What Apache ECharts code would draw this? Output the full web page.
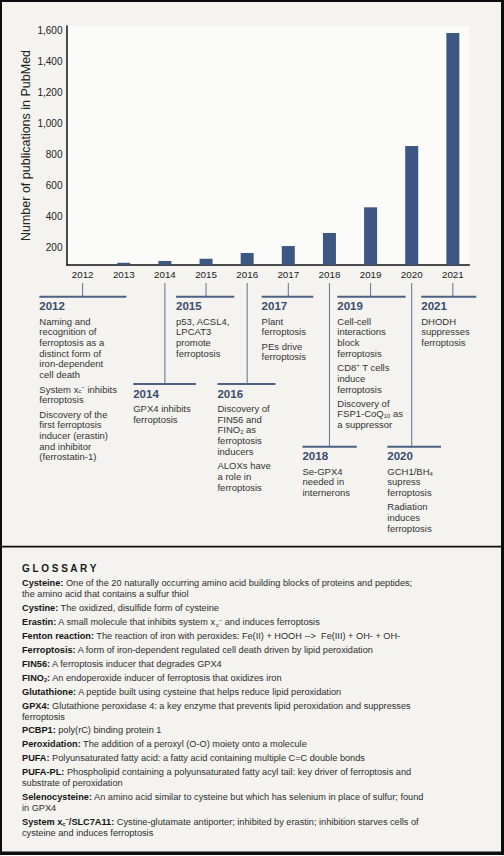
<!DOCTYPE html>
<html><head><meta charset="utf-8">
<script src="https://cdn.jsdelivr.net/npm/echarts@6/dist/echarts.min.js"></script>
<style>html,body{margin:0;padding:0;background:#f4f3ef}#c{width:504px;height:856px}</style>
</head><body><div id="c"></div>
<script>
// ---------- DATA ----------
const years = [2012, 2013, 2014, 2015, 2016, 2017, 2018, 2019, 2020, 2021];
const publications = [91, 103, 115, 129, 166, 211, 295, 460, 854, 1581];
const yTickLabels = [200, 400, 600, 800, 1000, 1200, 1400, 1600];
const yAxisTitle = 'Number of publications in PubMed';

const eventYears = [2012, 2014, 2015, 2016, 2017, 2018, 2019, 2020, 2021];
const eventTexts = [
  [["Naming and","recognition of","ferroptosis as a","distinct form of","iron-dependent","cell death"],
   ["System x{sub|c}{sup|−} inhibits","ferroptosis"],
   ["Discovery of the","first ferroptosis","inducer (erastin)","and inhibitor","(ferrostatin-1)"]],
  [["GPX4 inhibits","ferroptosis"]],
  [["p53, ACSL4,","LPCAT3","promote","ferroptosis"]],
  [["Discovery of","FIN56 and","FINO{sub|2} as","ferroptosis","inducers"],["ALOXs have","a role in","ferroptosis"]],
  [["Plant","ferroptosis"],["PEs drive","ferroptosis"]],
  [["Se-GPX4","needed in","internerons"]],
  [["Cell-cell","interactions","block","ferroptosis"],["CD8{sup|+} T cells","induce","ferroptosis"],["Discovery of","FSP1-CoQ{sub|10} as","a suppressor"]],
  [["GCH1/BH{sub|4}","supress","ferroptosis"],["Radiation","induces","ferroptosis"]],
  [["DHODH","suppresses","ferroptosis"]]
];

const glossaryTitle = 'G L O S S A R Y';
const glossary = [
  ["{b|Cysteine:} One of the 20 naturally occurring amino acid building blocks of proteins and peptides;","the amino acid that contains a sulfur thiol"],
  ["{b|Cystine:} The oxidized, disulfide form of cysteine"],
  ["{b|Erastin:} A small molecule that inhibits system x{sub|c}{sup|−} and induces ferroptosis"],
  ["{b|Fenton reaction:} The reaction of iron with peroxides: Fe(II) + HOOH -->  Fe(III) + OH- + OH-"],
  ["{b|Ferroptosis:} A form of iron-dependent regulated cell death driven by lipid peroxidation"],
  ["{b|FIN56:} A ferroptosis inducer that degrades GPX4"],
  ["{b|FINO}{bsub|2}{b|:} An endoperoxide inducer of ferroptosis that oxidizes iron"],
  ["{b|Glutathione:} A peptide built using cysteine that helps reduce lipid peroxidation"],
  ["{b|GPX4:} Glutathione peroxidase 4: a key enzyme that prevents lipid peroxidation and suppresses","ferroptosis"],
  ["{b|PCBP1:} poly(rC) binding protein 1"],
  ["{b|Peroxidation:} The addition of a peroxyl (O-O) moiety onto a molecule"],
  ["{b|PUFA:} Polyunsaturated fatty acid: a fatty acid containing multiple C=C double bonds"],
  ["{b|PUFA-PL:} Phospholipid containing a polyunsaturated fatty acyl tail: key driver of ferroptosis and","substrate of peroxidation"],
  ["{b|Selenocysteine:} An amino acid similar to cysteine but which has selenium in place of sulfur; found","in GPX4"],
  ["{b|System x}{bsub|c}{bsup|−}{b|/SLC7A11:} Cystine-glutamate antiporter; inhibited by erastin; inhibition starves cells of","cysteine and induces ferroptosis"]
];

// ---------- LAYOUT / STYLE ----------
const FONT = '"Liberation Sans", Arial, Helvetica, sans-serif';
const BG = '#f4f3ef';
const BAR = '#3d5783';
const SLATE = '#4c6184';
const YEARCOL = '#3a4c6b';
const TXT = '#333333';
// row index, left offset, right offset of the horizontal bracket relative to the year's x position
const eventLayout = [
  [0,-43.3,43.7],[1,-31.7,31],[0,-30,28.3],[1,-29.7,28.3],[0,-26.7,25],[2,-27,27.4],[0,-33.3,35],[2,-24.4,29.3],[0,-31.6,23.4]
];
const rowOffsets = [31.7, 119, 181.7];

function rich(size, color, boldColor) {
  const subSize = size * 0.62;
  return {
    b: {fontSize: size, fontFamily: FONT, fontWeight: 'bold', fill: boldColor},
    sub: {fontSize: subSize, fontFamily: FONT, fill: color, verticalAlign: 'bottom', lineHeight: subSize},
    sup: {fontSize: subSize, fontFamily: FONT, fill: color, verticalAlign: 'top', lineHeight: subSize},
    bsub: {fontSize: subSize, fontFamily: FONT, fontWeight: 'bold', fill: boldColor, verticalAlign: 'bottom', lineHeight: subSize},
    bsup: {fontSize: subSize, fontFamily: FONT, fontWeight: 'bold', fill: boldColor, verticalAlign: 'top', lineHeight: subSize}
  };
}

const chart = echarts.init(document.getElementById('c'), null, {renderer: 'svg', width: 504, height: 856});
chart.setOption({
  backgroundColor: BG,
  animation: false,
  grid: {left: 67, right: 34.7, top: 26, bottom: 591, show: true, backgroundColor: '#fbfbf9', borderWidth: 0, outerBoundsMode: 'none'},
  xAxis: {
    type: 'value', min: 2011.62, max: 2021.4,
    axisLine: {show: true, onZero: false, lineStyle: {color: '#111', width: 1.5}},
    axisTick: {show: false}, splitLine: {show: false},
    axisLabel: {customValues: years, formatter: v => String(v), margin: 4, fontSize: 9.8, color: '#222', fontFamily: FONT}
  },
  yAxis: {
    type: 'value', min: 89, max: 1626,
    axisLine: {show: true, onZero: false, lineStyle: {color: '#111', width: 1.5}},
    axisTick: {show: false}, splitLine: {show: false},
    axisLabel: {customValues: yTickLabels, formatter: v => v.toLocaleString('en-US'), margin: 4.5, fontSize: 10, color: '#222', fontFamily: FONT}
  },
  series: [{
    type: 'bar', barWidth: 13, clip: true,
    itemStyle: {color: BAR},
    data: years.map((y, i) => [y, publications[i]])
  }]
});

const els = [];
const axisBottom = chart.convertToPixel({gridIndex: 0}, [2012, 89])[1];
const axisTop = chart.convertToPixel({gridIndex: 0}, [2012, 1626])[1];
const axisLeft = chart.convertToPixel({gridIndex: 0}, [2011.62, 89])[0];

// y-axis title
els.push({type: 'text', silent: true, x: axisLeft - 41, y: (axisTop + axisBottom) / 2, rotation: Math.PI / 2,
  style: {text: yAxisTitle, fontSize: 12.5, fontFamily: FONT, fill: '#222', align: 'center', verticalAlign: 'middle'}});

const connectorTop = axisBottom + 18;
const LH = 10.7, GAP = 3.6, FS = 9.5;

eventYears.forEach((yr, i) => {
  const x = chart.convertToPixel({gridIndex: 0}, [yr, 500])[0];
  const [row, lo, ro] = eventLayout[i];
  const rowY = axisBottom + rowOffsets[row];
  els.push({type: 'line', silent: true, shape: {x1: x, y1: connectorTop, x2: x, y2: rowY}, style: {stroke: '#60728f', lineWidth: 1}});
  els.push({type: 'line', silent: true, shape: {x1: x + lo, y1: rowY, x2: x + ro, y2: rowY}, style: {stroke: SLATE, lineWidth: 2}});
  els.push({type: 'text', silent: true, x: x + lo, y: rowY + 9.5,
    style: {text: String(yr), fontSize: 11.5, fontWeight: 'bold', fontFamily: FONT, fill: YEARCOL, verticalAlign: 'middle', align: 'left'}});
  let top = rowY + 24.5 - LH / 2;
  eventTexts[i].forEach(par => {
    els.push({type: 'text', silent: true, x: x + lo, y: top,
      style: {text: par.join('\n'), fontSize: FS, fontFamily: FONT, fill: TXT, lineHeight: LH, verticalAlign: 'top', align: 'left', rich: rich(FS, TXT, TXT)}});
    top += par.length * LH + GAP;
  });
});

// frame and divider
els.push({type: 'rect', silent: true, shape: {x: 0, y: 0, width: 504, height: 2}, style: {fill: '#0d0d0d'}});
els.push({type: 'rect', silent: true, shape: {x: 0, y: 0, width: 2, height: 856}, style: {fill: '#0d0d0d'}});
els.push({type: 'rect', silent: true, shape: {x: 501, y: 0, width: 3, height: 856}, style: {fill: '#0d0d0d'}});
els.push({type: 'rect', silent: true, shape: {x: 0, y: 851.5, width: 504, height: 3.5}, style: {fill: '#0d0d0d'}});
els.push({type: 'rect', silent: true, shape: {x: 0, y: 545.8, width: 504, height: 1.8}, style: {fill: '#0d0d0d'}});
els.push({type: 'rect', silent: true, shape: {x: 0, y: 855, width: 504, height: 1}, style: {fill: '#ffffff'}});

// glossary
els.push({type: 'text', silent: true, x: 22, y: 568.3,
  style: {text: glossaryTitle, fontSize: 10, fontWeight: 'bold', fontFamily: FONT, fill: '#1a1a1a', verticalAlign: 'middle', align: 'left'}});
const GLH = 11, GGAP = 2.9, GFS = 9.2;
let gy = 583.3 - GLH / 2;
glossary.forEach(entry => {
  els.push({type: 'text', silent: true, x: 22, y: gy,
    style: {text: entry.join('\n'), fontSize: GFS, fontFamily: FONT, fill: '#2e2e2e', lineHeight: GLH, verticalAlign: 'top', align: 'left', rich: rich(GFS, '#2e2e2e', '#151515')}});
  gy += entry.length * GLH + GGAP;
});

chart.setOption({graphic: {elements: els}});
</script></body></html>
